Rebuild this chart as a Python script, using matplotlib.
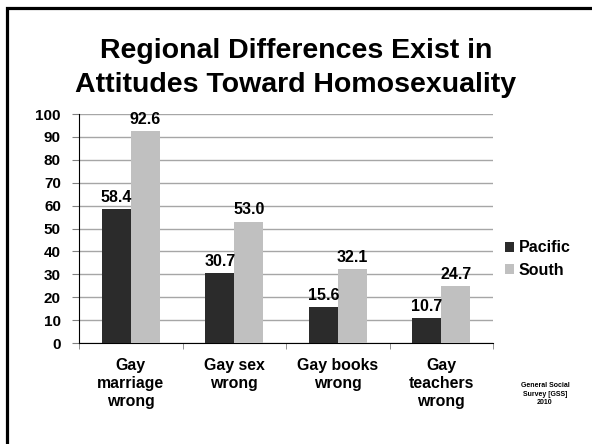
import matplotlib
matplotlib.use("Agg")
import matplotlib.pyplot as plt
from matplotlib.patches import Rectangle
import numpy as np

plt.rcParams['font.family'] = ['Liberation Sans', 'DejaVu Sans']
plt.rcParams['font.weight'] = 'bold'

categories = ["Gay\nmarriage\nwrong", "Gay sex\nwrong", "Gay books\nwrong", "Gay\nteachers\nwrong"]
series_names = ["Pacific", "South"]
pacific = [58.4, 30.7, 15.6, 10.7]
south = [92.6, 53.0, 32.1, 24.7]
y_ticks = list(range(0, 101, 10))
colors = ["#2b2b2b", "#c0c0c0"]

fig = plt.figure(figsize=(5.92, 4.44), dpi=100)
fig.patch.set_facecolor("white")

# Slide frame
fig.add_artist(Rectangle((7 / 592, -0.05), 1.1, 1 - 8 / 444 + 0.05,
                         transform=fig.transFigure, fill=False,
                         edgecolor="black", linewidth=2.3))

fig.text(0.5, 1 - 51 / 444, "Regional Differences Exist in", ha="center", va="center",
         fontsize=20.5, fontweight="bold")
fig.text(0.5, 1 - 85 / 444, "Attitudes Toward Homosexuality", ha="center", va="center",
         fontsize=20.5, fontweight="bold")

ax = fig.add_axes([79 / 592, 1 - 343 / 444, (493 - 79) / 592, (343 - 114) / 444])
x = np.arange(len(categories))
w = 0.28
b1 = ax.bar(x - w / 2, pacific, w, color=colors[0], label=series_names[0], zorder=3)
b2 = ax.bar(x + w / 2, south, w, color=colors[1], label=series_names[1], zorder=3)

for bars, vals in ((b1, pacific), (b2, south)):
    for rect, v in zip(bars, vals):
        ax.annotate(f"{v:.1f}", (rect.get_x() + rect.get_width() / 2, v),
                    xytext=(0, 3), textcoords="offset points",
                    ha="center", va="bottom", fontsize=11.5, fontweight="bold")

ax.set_xlim(-0.5, len(categories) - 0.5)
ax.set_ylim(0, 100)
ax.set_yticks(y_ticks)
ax.set_yticklabels([str(t) for t in y_ticks], fontsize=11, fontweight="bold")
ax.yaxis.grid(True, color="#a6a6a6", linewidth=1.0, zorder=0)
ax.set_axisbelow(True)

ax.set_xticks(x)
ax.set_xticklabels(categories, fontsize=11.4, fontweight="bold", linespacing=1.25)
ax.tick_params(axis="x", which="major", length=0, pad=11)
ax.set_xticks(np.arange(-0.5, len(categories), 1.0), minor=True)
ax.tick_params(axis="x", which="minor", length=4, color="#808080")
ax.tick_params(axis="y", length=5, color="#808080", pad=8)

for s in ("top", "right"):
    ax.spines[s].set_visible(False)
ax.spines["left"].set_color("black")
ax.spines["bottom"].set_color("black")
ax.spines["left"].set_linewidth(0.8)
ax.spines["bottom"].set_linewidth(0.8)

fig.legend(handles=[b1, b2], labels=series_names, loc="center left",
           bbox_to_anchor=(494 / 592, 1 - 259 / 444), frameon=False,
           prop={"size": 11.5, "weight": "bold"}, handlelength=0.55, handleheight=0.55,
           handletextpad=0.3, labelspacing=0.45, borderpad=0.2)

fig.text(545 / 592, 1 - 394 / 444, "General Social\nSurvey [GSS]\n2010", ha="center",
         va="center", fontsize=5, fontweight="bold", linespacing=1.35)

fig.savefig("out.png", dpi=100, facecolor="white")
